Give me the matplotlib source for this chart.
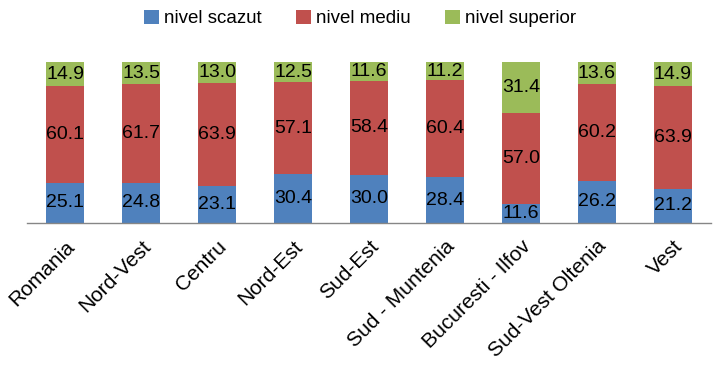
import matplotlib.pyplot as plt
import numpy as np

plt.rcParams["font.family"] = ["Liberation Sans", "DejaVu Sans"]

regions = ["Romania", "Nord-Vest", "Centru", "Nord-Est", "Sud-Est",
           "Sud - Muntenia", "Bucuresti - Ilfov", "Sud-Vest Oltenia", "Vest"]
scazut = [25.1, 24.8, 23.1, 30.4, 30.0, 28.4, 11.6, 26.2, 21.2]
mediu = [60.1, 61.7, 63.9, 57.1, 58.4, 60.4, 57.0, 60.2, 63.9]
superior = [14.9, 13.5, 13.0, 12.5, 11.6, 11.2, 31.4, 13.6, 14.9]

series = [
    ("nivel scazut", scazut, "#4F81BD"),
    ("nivel mediu", mediu, "#C0504D"),
    ("nivel superior", superior, "#9BBB59"),
]

fig = plt.figure(figsize=(7.13, 3.66), dpi=100)
ax = fig.add_axes([0.038, 0.391, 0.959, 0.439])

x = np.arange(len(regions))
bottom = np.zeros(len(regions))
for name, vals, color in series:
    vals = np.array(vals)
    ax.bar(x, vals, 0.51, bottom=bottom, color=color, label=name)
    for xi, b, v in zip(x, bottom, vals):
        ax.text(xi, b + v / 2, f"{v:.1f}", ha="center", va="center",
                fontsize=14, color="black")
    bottom += vals

ax.set_xlim(-0.5, len(regions) - 0.5)
ax.set_ylim(0, 100)
ax.set_yticks([])
for side in ["top", "right", "left"]:
    ax.spines[side].set_visible(False)
ax.spines["bottom"].set_color("#868686")
ax.spines["bottom"].set_linewidth(1)

ax.set_xticks(x)
ax.set_xticklabels(regions, rotation=45, ha="right", rotation_mode="anchor",
                   fontsize=15)
ax.tick_params(axis="x", length=0, pad=10)

fig.legend(loc="upper center", bbox_to_anchor=(0.505, 1.02), ncol=3,
           frameon=False, fontsize=13.5, handlelength=0.8, handleheight=0.8,
           handletextpad=0.3, columnspacing=1.8)

fig.savefig("out.png", dpi=100)
